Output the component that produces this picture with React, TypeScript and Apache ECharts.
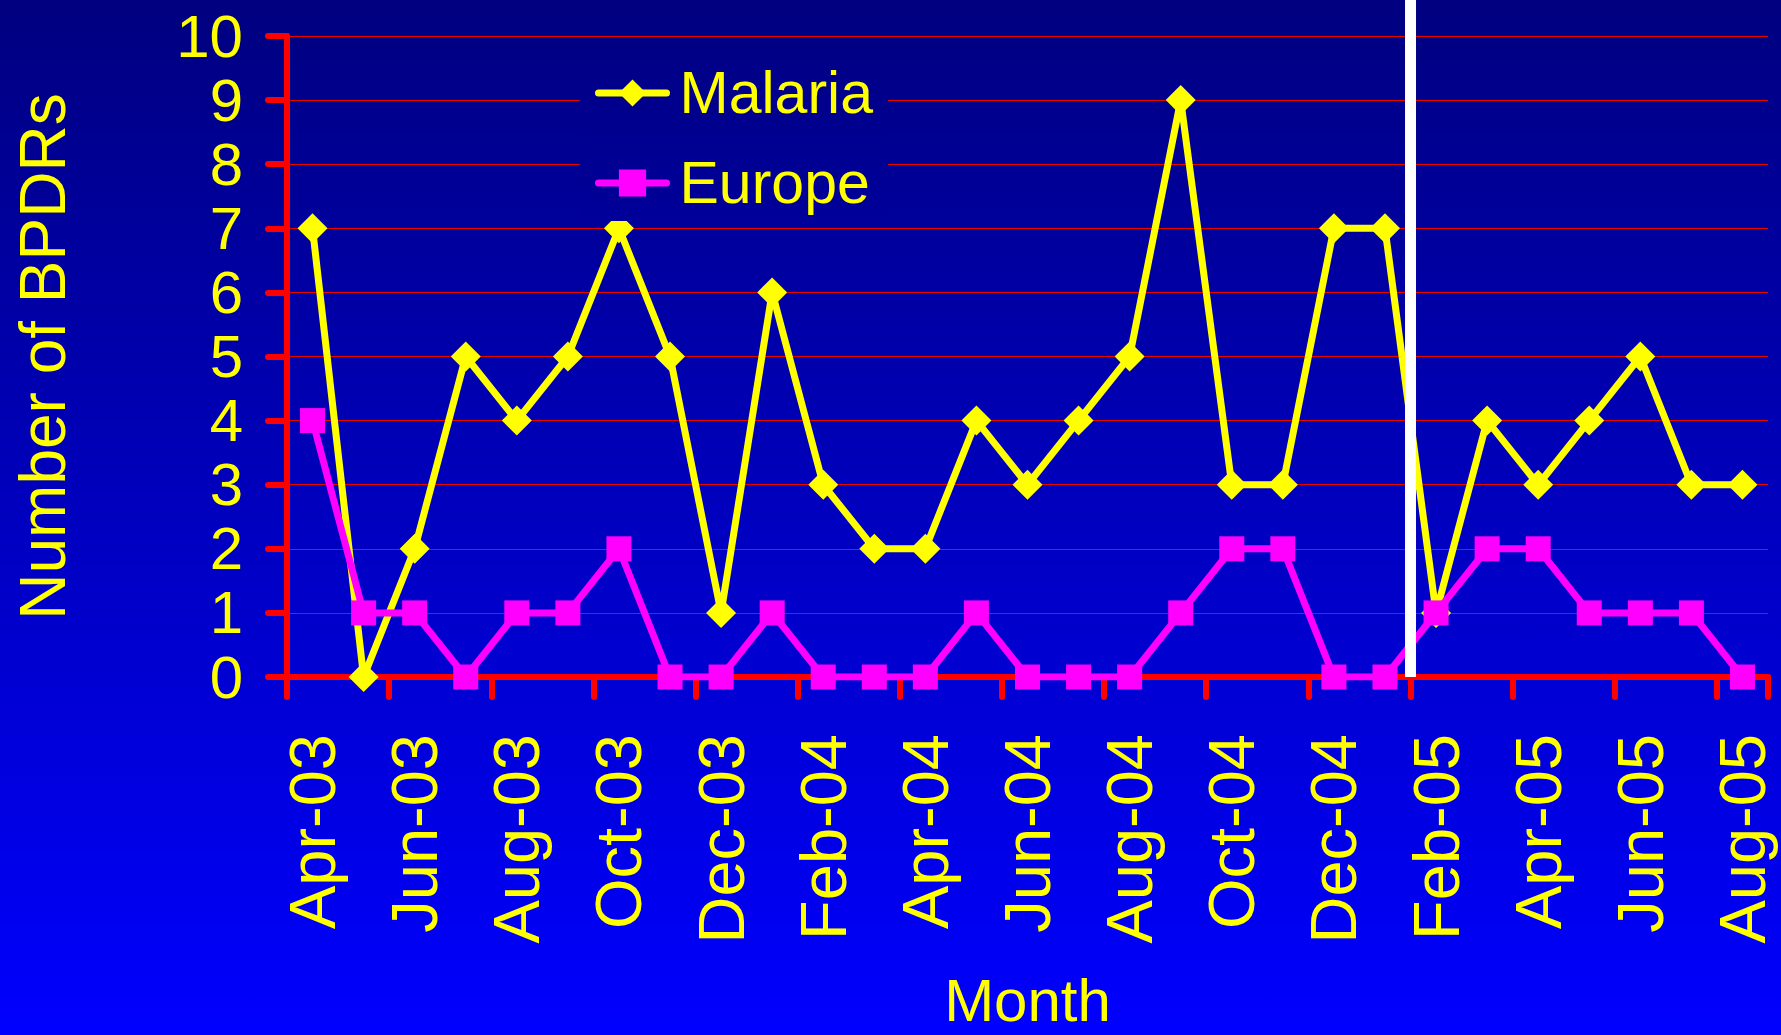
import React, { useEffect, useRef } from "react";
import * as echarts from "echarts";

const months = [
  "Apr-03", "May-03", "Jun-03", "Jul-03", "Aug-03", "Sep-03", "Oct-03", "Nov-03", "Dec-03",
  "Jan-04", "Feb-04", "Mar-04", "Apr-04", "May-04", "Jun-04", "Jul-04", "Aug-04", "Sep-04",
  "Oct-04", "Nov-04", "Dec-04", "Jan-05", "Feb-05", "Mar-05", "Apr-05", "May-05", "Jun-05",
  "Jul-05", "Aug-05",
];
const malaria = [7, 0, 2, 5, 4, 5, 7, 5, 1, 6, 3, 2, 2, 4, 3, 4, 5, 9, 3, 3, 7, 7, 1, 4, 3, 4, 5, 3, 3];
const europe = [4, 1, 1, 0, 1, 1, 2, 0, 0, 1, 0, 0, 0, 1, 0, 0, 0, 1, 2, 2, 0, 0, 1, 2, 2, 1, 1, 1, 0];
// vertical divider between Jan-05 and Feb-05 (category boundary)
const dividerX = 21.5;
const dividerY = [0, 10.6];

const FONT = "'Liberation Sans', Arial, Helvetica, sans-serif";
const YELLOW = "#FFFF00";
const MAGENTA = "#FF00FF";
const RED = "#FF0000";

export default function App() {
  const ref = useRef<HTMLDivElement>(null);
  useEffect(() => {
    if (!ref.current) return;
    const chart = echarts.init(ref.current, null, { renderer: "svg" });
    chart.setOption({
      animation: false,
      backgroundColor: {
        type: "linear", x: 0, y: 0, x2: 0, y2: 1,
        colorStops: [
          { offset: 0, color: "#000080" },
          { offset: 1, color: "#0000FF" },
        ],
      },
      textStyle: { fontFamily: FONT },
      grid: { left: 287, right: 13, top: 36, bottom: 353, containLabel: false },
      legend: {
        data: ["Malaria", "Europe"],
        orient: "vertical",
        left: 580,
        top: 55,
        padding: [6, 15, 6, 15],
        itemWidth: 68,
        itemHeight: 34,
        itemGap: 26,
        lineStyle: { width: 7, cap: "round" },
        backgroundColor: {
          type: "linear", x: 0, y: 0, x2: 0, y2: 1,
          colorStops: [
            { offset: 0, color: "#000087" },
            { offset: 1, color: "#00009A" },
          ],
        },
        textStyle: { color: YELLOW, fontSize: 59, lineHeight: 64, fontFamily: FONT, padding: [0, 0, 0, 8] },
      },
      xAxis: [
        {
          type: "category",
          data: months,
          boundaryGap: true,
          name: "Month",
          nameLocation: "middle",
          nameGap: 293,
          nameTextStyle: { color: YELLOW, fontSize: 60, fontFamily: FONT },
          axisLine: { lineStyle: { color: RED, width: 6, cap: "round" } },
          axisTick: { show: true, interval: 1, length: 20, lineStyle: { color: RED, width: 6, cap: "round" } },
          axisLabel: { interval: 1, rotate: 90, color: YELLOW, fontSize: 65, fontFamily: FONT, margin: 57 },
          splitLine: { show: false },
        },
        {
          type: "value",
          min: -0.5,
          max: 28.5,
          show: false,
        },
      ],
      yAxis: {
        type: "value",
        min: 0,
        max: 10,
        interval: 1,
        name: "Number of BPDRs",
        nameLocation: "middle",
        nameGap: 212,
        nameTextStyle: { color: YELLOW, fontSize: 64, fontFamily: FONT },
        axisLine: { show: true, onZero: false, lineStyle: { color: RED, width: 6, cap: "round" } },
        axisTick: { show: true, length: 19, lineStyle: { color: RED, width: 6, cap: "round" } },
        axisLabel: { color: YELLOW, fontSize: 60, fontFamily: FONT, margin: 44 },
        splitLine: { show: true, lineStyle: { color: "#EE0000", width: 1 } },
      },
      series: [
        {
          name: "Malaria",
          type: "line",
          data: malaria,
          symbol: "diamond",
          symbolSize: 30,
          itemStyle: { color: YELLOW },
          lineStyle: { color: YELLOW, width: 7 },
          z: 2,
        },
        {
          name: "Europe",
          type: "line",
          data: europe,
          symbol: "rect",
          symbolSize: 25,
          itemStyle: { color: MAGENTA },
          lineStyle: { color: MAGENTA, width: 7 },
          z: 3,
        },
        {
          name: "divider",
          type: "line",
          xAxisIndex: 1,
          data: dividerY.map((y) => [dividerX, y]),
          symbol: "none",
          clip: false,
          silent: true,
          lineStyle: { color: "#FFFFFF", width: 11, cap: "butt" },
          z: 4,
        },
      ],
    });
    return () => chart.dispose();
  }, []);
  return (
    <div
      ref={ref}
      style={{ position: "absolute", left: 0, top: 0, width: 1781, height: 1035 }}
    />
  );
}
